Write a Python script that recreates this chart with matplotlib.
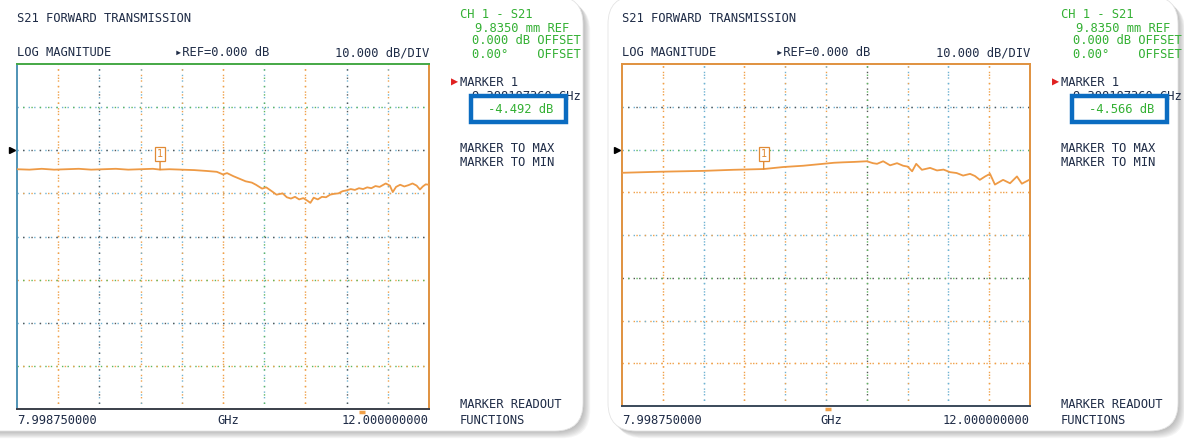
import numpy as np
import matplotlib.pyplot as plt
from matplotlib.patches import FancyBboxPatch, Rectangle
from matplotlib.transforms import blended_transform_factory

plt.rcParams['font.family'] = ['DejaVu Sans Mono', 'DejaVu Sans']

# analyzer settings
f_start = 7.99875
f_stop = 12.0
ref_db = 0.0
db_per_div = 10.0
n_xdiv = 10
n_ydiv = 8
ref_div_from_top = 2
marker_ghz = 9.388187360
marker_db = [-4.492, -4.566]
stim_ghz = [11.35, 10.02]

# S21 trace, first measurement
left_ghz = [7.999, 8.119, 8.239, 8.359, 8.479, 8.599, 8.719, 8.839, 8.959, 9.079,
            9.199, 9.319, 9.388, 9.479, 9.599, 9.719, 9.839, 9.939, 9.999, 10.039,
            10.099, 10.159, 10.219, 10.279, 10.319, 10.379, 10.419, 10.479, 10.519, 10.579,
            10.619, 10.659, 10.699, 10.739, 10.779, 10.819, 10.848, 10.880, 10.920, 10.960,
            11.000, 11.040, 11.080, 11.120, 11.160, 11.200, 11.240, 11.280, 11.320, 11.360,
            11.400, 11.440, 11.480, 11.520, 11.580, 11.620, 11.648, 11.680, 11.720, 11.760,
            11.800, 11.840, 11.880, 11.912, 11.940, 11.968, 12.000]
left_db = [-4.4, -4.5, -4.3, -4.5, -4.4, -4.3, -4.5, -4.4, -4.3, -4.5,
           -4.4, -4.3, -4.49, -4.4, -4.5, -4.6, -4.8, -5.0, -5.6, -5.3,
           -6.0, -6.6, -7.2, -7.5, -8.0, -8.9, -8.6, -9.6, -10.3, -10.0,
           -10.9, -11.2, -10.8, -11.4, -11.1, -11.7, -12.2, -11.0, -11.4, -10.8,
           -10.9, -10.3, -10.1, -10.0, -9.5, -9.3, -9.0, -9.2, -8.8, -9.0,
           -8.6, -8.8, -8.3, -8.5, -7.7, -8.2, -9.7, -8.5, -8.0, -8.4,
           -8.1, -7.7, -8.2, -9.1, -8.4, -7.9, -8.0]

# S21 trace, second measurement
right_ghz = [7.999, 8.371, 8.795, 9.087, 9.388, 9.579, 9.775, 9.971, 10.079, 10.167,
             10.279, 10.400, 10.460, 10.500, 10.560, 10.628, 10.696, 10.756, 10.800, 10.844,
             10.884, 10.940, 11.020, 11.088, 11.152, 11.216, 11.280, 11.344, 11.412, 11.460,
             11.508, 11.560, 11.608, 11.656, 11.736, 11.804, 11.872, 11.920, 11.992]
right_db = [-5.45, -5.2, -5.0, -4.75, -4.57, -4.1, -3.8, -3.35, -3.1, -3.0,
            -2.9, -2.75, -3.2, -3.35, -2.75, -3.7, -3.2, -3.8, -4.0, -5.1,
            -3.35, -4.75, -4.3, -4.9, -4.7, -5.3, -5.5, -6.1, -5.7, -6.2,
            -7.1, -6.3, -5.7, -8.2, -7.1, -7.9, -6.3, -8.0, -7.1]

W, H = 1184, 441
fig = plt.figure(figsize=(W / 100, H / 100), dpi=100)
fig.patch.set_facecolor('white')

bg = fig.add_axes([0, 0, 1, 1])
bg.set_xlim(0, W)
bg.set_ylim(H, 0)
bg.axis('off')

navy = '#1f2c47'
green = '#33b033'
orange = '#f0a048'
blue = '#6fb2d2'
gray = '#555555'
lgreen = '#5cb85c'
fs = 8.7


def card(x0, y0, x1, y1):
    for k in range(8, 0, -1):
        bg.add_patch(FancyBboxPatch((x0 + k * 0.9, y0 + k * 0.9), x1 - x0, y1 - y0,
                                    boxstyle='round,pad=0,rounding_size=28',
                                    fc='#606060', ec='none', alpha=0.06))
    bg.add_patch(FancyBboxPatch((x0, y0), x1 - x0, y1 - y0,
                                boxstyle='round,pad=0,rounding_size=28',
                                fc='white', ec='#e4e4e4', lw=0.6))


card(-40, -4, 583, 431)
card(608, -4, 1178, 431)


def panel(ox, box, freq, db, mk_db, stim, vcols, hcols, spines):
    x0, y0, x1, y1 = box
    ax = fig.add_axes([x0 / W, 1 - y1 / H, (x1 - x0) / W, (y1 - y0) / H])
    top = ref_db + ref_div_from_top * db_per_div
    bottom = top - n_ydiv * db_per_div
    ax.set_xlim(f_start, f_stop)
    ax.set_ylim(bottom, top)
    ax.set_xticks([])
    ax.set_yticks([])
    ax.set_facecolor('white')
    for side, c in spines.items():
        ax.spines[side].set_color(c)
        ax.spines[side].set_linewidth(1.4)

    step = (f_stop - f_start) / n_xdiv
    for i in range(1, n_xdiv):
        c1, c2 = vcols[i - 1]
        xv = f_start + i * step
        ax.plot([xv, xv], [bottom, top], color=c1, lw=1.0, ls=(0, (1, 3)))
        ax.plot([xv, xv], [bottom, top], color=c2, lw=1.0, ls=(2, (1, 5)))
    for j in range(1, n_ydiv):
        c1, c2 = hcols[j - 1]
        yv = top - j * db_per_div
        ax.plot([f_start, f_stop], [yv, yv], color=c1, lw=1.0, ls=(0, (1, 3)))
        ax.plot([f_start, f_stop], [yv, yv], color=c2, lw=1.0, ls=(2, (1, 5)))

    ax.plot(freq, db, color='#ee9a45', lw=1.3, zorder=5)

    ax.annotate('1', xy=(marker_ghz, mk_db), xytext=(0, 11), textcoords='offset points',
                ha='center', va='center', fontsize=7.2, color='#e08a35', zorder=6,
                bbox=dict(boxstyle='square,pad=0.2', fc='white', ec='#e08a35', lw=0.9),
                arrowprops=dict(arrowstyle='-', color='#e08a35', lw=1.0,
                                shrinkA=0, shrinkB=0))

    tr = blended_transform_factory(ax.transAxes, ax.transData)
    ax.plot([-0.012], [ref_db], marker='>', ms=4, color='black', transform=tr, clip_on=False)
    tr2 = blended_transform_factory(ax.transData, ax.transAxes)
    ax.plot([stim], [-0.008], marker='_', ms=5, mew=2.5, color=orange, transform=tr2,
            clip_on=False)

    # header and softkey texts
    t = dict(color=navy, fontsize=fs, va='center')
    g = dict(color=green, fontsize=fs, va='center')
    bg.text(x0, 18, 'S21 FORWARD TRANSMISSION', **t)
    bg.text(x0, 53, 'LOG MAGNITUDE', **t)
    bg.text(ox + 175, 53, '\u25b8REF=0.000 dB', **t)
    bg.text(x1, 53, '10.000 dB/DIV', ha='right', **t)
    bg.text(ox + 460, 14, 'CH 1 - S21', **g)
    bg.text(ox + 475, 28, '9.8350 mm REF', **g)
    bg.text(ox + 472, 41, '0.000 dB OFFSET', **g)
    bg.text(ox + 472, 55, '0.00\u00b0    OFFSET', **g)
    bg.text(ox + 451, 82, '\u25b6', color='#e02020', fontsize=8.5, va='center')
    bg.text(ox + 460, 82, 'MARKER 1', **t)
    bg.text(ox + 472, 97, '9.388187360 GHz', **t)
    bx0, bx1 = ox + 471, ox + 566
    bg.add_patch(Rectangle((bx0, 96), bx1 - bx0, 26, fc='white', ec='#0b6cc1', lw=3.2,
                           zorder=4))
    bg.text((bx0 + bx1) / 2 + 2, 109.5, '%.3f dB' % mk_db, ha='center', zorder=5, **g)
    bg.text(ox + 460, 149, 'MARKER TO MAX', **t)
    bg.text(ox + 460, 162, 'MARKER TO MIN', **t)
    bg.text(ox + 460, 405, 'MARKER READOUT', **t)
    bg.text(ox + 460, 420, 'FUNCTIONS', **t)
    bg.text(x0, 420, '%.9f' % f_start, **t)
    bg.text((x0 + x1) / 2 + 5, 420, 'GHz', ha='center', **t)
    bg.text(x1, 420, '%.9f' % f_stop, ha='right', **t)
    return ax


panel(0, (17, 64, 429, 409), left_ghz, left_db, marker_db[0], stim_ghz[0],
      [(orange, orange), (blue, gray), (orange, blue), (blue, orange), (orange, orange),
       (blue, lgreen), (orange, orange), (blue, gray), (orange, blue)],
      [(blue, lgreen), (blue, gray), (blue, orange), (blue, gray), (orange, lgreen),
       (blue, gray), (lgreen, orange)],
      {'left': '#4f93b5', 'top': '#45a845', 'right': '#e0923f', 'bottom': '#3a3f4a'})

panel(601, (622, 64, 1030, 406), right_ghz, right_db, marker_db[1], stim_ghz[1],
      [(orange, orange), (blue, blue), (orange, orange), (blue, orange), (orange, blue),
       (gray, lgreen), (blue, orange), (blue, blue), (orange, orange)],
      [(blue, gray), (blue, lgreen), (orange, orange), (blue, orange), (gray, lgreen),
       (orange, blue), (orange, orange)],
      {'left': '#e0923f', 'top': '#e0923f', 'right': '#e0923f', 'bottom': '#3a4a5a'})

fig.savefig('out.png', dpi=100, facecolor='white')
